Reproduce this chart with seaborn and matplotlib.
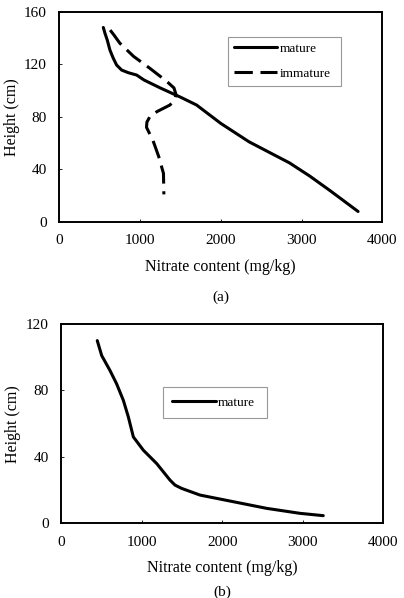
import matplotlib
matplotlib.use("Agg")
import matplotlib.pyplot as plt
import seaborn as sns
import pandas as pd

# panel (a) values
mature_a_x = [545, 566, 594, 627, 669, 710, 772, 854, 958, 1050, 1250, 1500, 1700, 2000, 2350, 2600, 2850, 3100, 3350, 3700]
mature_a_y = [148, 143.5, 138.4, 130.8, 124.5, 119.4, 115.6, 113.6, 111.8, 108, 102, 95, 89, 75, 61, 53, 45, 35, 24, 8]
immature_a_x = [630, 680, 750, 920, 1120, 1330, 1420, 1445, 1430, 1370, 1210, 1120, 1085, 1080, 1160, 1230, 1290, 1295]
immature_a_y = [146, 142, 136, 126, 117, 107, 102, 97, 93, 89, 84, 80, 76, 72, 62, 50, 37, 21]

# panel (b)
mature_b_x = [450, 505, 608, 690, 774, 836, 898, 1022, 1187, 1353, 1415, 1498, 1725, 2139, 2552, 2966, 3255]
mature_b_y = [110, 101, 92, 84, 74, 64, 52, 44, 36, 26, 23, 21, 17, 13, 9, 6, 4.6]

x_ticks = [0, 1000, 2000, 3000, 4000]
y_ticks_a = [0, 40, 80, 120, 160]
y_ticks_b = [0, 40, 80, 120]

sns.set_theme(style="white")
plt.rcParams['font.family'] = ['Liberation Serif', 'DejaVu Serif']
plt.rcParams['text.color'] = 'black'
plt.rcParams['axes.labelcolor'] = 'black'

fig = plt.figure(figsize=(4.04, 5.98), dpi=100)
ax1 = fig.add_axes([59.3 / 404, 1 - 222 / 598, 323 / 404, 210.3 / 598])
ax2 = fig.add_axes([61 / 404, 1 - 523.3 / 598, 322.3 / 404, 199.3 / 598])

df_m = pd.DataFrame({"x": mature_a_x, "y": mature_a_y})
df_i = pd.DataFrame({"x": immature_a_x, "y": immature_a_y})
df_b = pd.DataFrame({"x": mature_b_x, "y": mature_b_y})

sns.lineplot(data=df_m, x="x", y="y", sort=False, estimator=None, ax=ax1,
             color="black", lw=2.2, label="mature")
sns.lineplot(data=df_i, x="x", y="y", sort=False, estimator=None, ax=ax1,
             color="black", lw=2.2, linestyle=(0, (6, 2.5)), label="immature")
sns.lineplot(data=df_b, x="x", y="y", sort=False, estimator=None, ax=ax2,
             color="black", lw=2.2, label="mature")

for ax, yt, lab, ly in [(ax1, y_ticks_a, "(a)", -0.36), (ax2, y_ticks_b, "(b)", -0.345)]:
    ax.set_xlim(0, 4000)
    ax.set_ylim(0, yt[-1])
    ax.set_xticks(x_ticks)
    ax.set_yticks(yt)
    ax.tick_params(direction="in", length=2, width=0.6, labelsize=11, pad=9,
                   bottom=True, left=True, colors="black")
    for s in ax.spines.values():
        s.set_color("black")
        s.set_linewidth(1.4)
    ax.set_xlabel("Nitrate content (mg/kg)", fontsize=11.5, labelpad=8)
    ax.set_ylabel("Height (cm)", fontsize=11.5, labelpad=3)
    ax.text(0.5, ly, lab, transform=ax.transAxes, ha="center", va="center", fontsize=11)

leg1 = ax1.legend(loc="upper left", bbox_to_anchor=(0.522, 0.647, 0.35, 0.233), mode="expand",
                  fontsize=9.5, handlelength=3.3, handletextpad=0.15, labelspacing=0.95,
                  borderpad=0.45, borderaxespad=0, fancybox=False, edgecolor="#999999", framealpha=1)
leg1.get_frame().set_linewidth(0.8)
leg2 = ax2.legend(loc="lower left", bbox_to_anchor=(0.317, 0.528, 0.323, 0.145), mode="expand",
                  fontsize=9.5, handlelength=3.3, handletextpad=0.15, borderpad=0.7,
                  borderaxespad=0, fancybox=False, edgecolor="#999999", framealpha=1)
leg2.get_frame().set_linewidth(0.8)

fig.savefig("out.png", dpi=100)
